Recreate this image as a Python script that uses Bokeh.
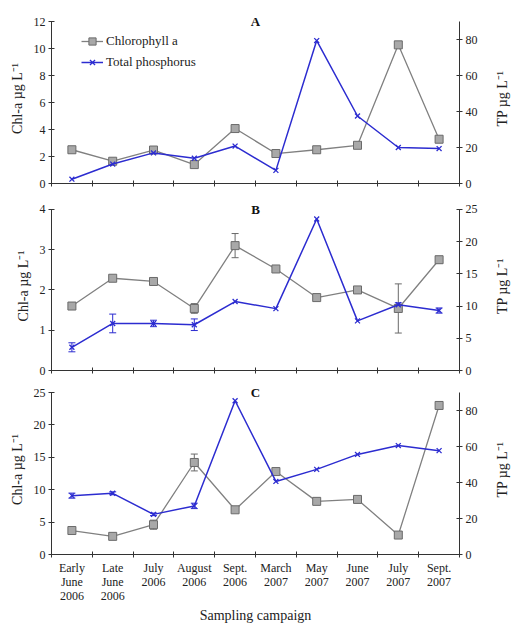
from bokeh.plotting import figure
from bokeh.models import (Range1d, LinearAxis, FixedTicker, ColumnDataSource, Whisker,
                          TeeHead, Label, Legend, LegendItem, Title)
from bokeh.layouts import column, row
from bokeh.embed import file_html
from bokeh.resources import INLINE

categories = ["Early\nJune\n2006", "Late\nJune\n2006", "July\n2006", "August\n2006",
              "Sept.\n2006", "March\n2007", "May\n2007", "June\n2007", "July\n2007", "Sept.\n2007"]

chl_a = [2.5, 1.65, 2.48, 1.4, 4.07, 2.22, 2.5, 2.83, 10.27, 3.28]
chl_a_err = [0, 0, 0, 0, 0, 0, 0, 0, 0, 0]
tp_a = [2.4, 10.8, 17.0, 14.0, 20.8, 7.3, 79.4, 37.5, 20.0, 19.4]
tp_a_err = [0, 0, 0, 0, 0, 0, 0, 0, 0, 0]

chl_b = [1.6, 2.29, 2.21, 1.54, 3.1, 2.52, 1.81, 2.0, 1.54, 2.75]
chl_b_err = [0, 0.04, 0, 0.12, 0.3, 0, 0, 0.07, 0.61, 0.08]
tp_b = [3.6, 7.3, 7.3, 7.1, 10.7, 9.6, 23.5, 7.7, 10.2, 9.3]
tp_b_err = [0.7, 1.45, 0.5, 0.9, 0, 0, 0, 0, 0.3, 0.4]

chl_c = [3.7, 2.8, 4.6, 14.2, 6.9, 12.8, 8.2, 8.5, 3.0, 23.0]
chl_c_err = [0, 0, 0.7, 1.3, 0, 0, 0, 0, 0, 0]
tp_c = [32.7, 34.0, 22.3, 27.0, 85.4, 40.6, 47.3, 55.6, 60.5, 57.7]
tp_c_err = [1.4, 0.8, 0.7, 1.5, 0, 0, 0, 0, 0, 0]

panel_letters = ["A", "B", "C"]
chl_ranges = [(0, 12, 2), (0, 4, 1), (0, 25, 5)]
tp_ranges = [(0, 90, 20, 80), (0, 25, 5, 25), (0, 90, 20, 80)]
chl_label = "Chl-a µg L⁻¹"
tp_label = "TP µg L⁻¹"

FONT = "Liberation Serif"
GRAY_LINE = "#808080"
GRAY_FILL = "#a8a8a8"
GRAY_EDGE = "#6a6a6a"
BLUE = "#2c2cd0"
AXIS = "#333333"
EXT = 8          # px of headroom above each axis top for the panel letter
SIDE_W = 26      # width of the strip that carries the right-hand axis title
MAIN_W = 516 - SIDE_W

x = [i + 0.5 for i in range(len(categories))]


def style_axis(ax):
    ax.axis_line_color = AXIS
    ax.major_tick_line_color = AXIS
    ax.minor_tick_line_color = AXIS
    ax.major_tick_in = 3
    ax.major_tick_out = 3
    ax.major_label_text_font = FONT
    ax.major_label_text_font_size = "12px"
    ax.major_label_text_color = "#222222"
    ax.axis_label_text_font = FONT
    ax.axis_label_text_font_size = "14px"
    ax.axis_label_text_font_style = "normal"
    ax.axis_label_text_color = "#222222"
    ax.major_label_standoff = 3


def whiskers(p, vals, errs, color, range_name=None):
    xs, lo, hi = [], [], []
    for xi, v, e in zip(x, vals, errs):
        if e > 0:
            xs.append(xi); lo.append(v - e); hi.append(v + e)
    if not xs:
        return
    src = ColumnDataSource(dict(x=xs, lower=lo, upper=hi))
    kw = {}
    if range_name:
        kw["y_range_name"] = range_name
    w = Whisker(source=src, base="x", lower="lower", upper="upper",
                line_color=color, line_width=1,
                upper_head=TeeHead(size=7, line_color=color, line_width=1),
                lower_head=TeeHead(size=7, line_color=color, line_width=1), **kw)
    p.add_layout(w)


def side_title(height, center):
    # narrow strip whose left-side Title reads bottom-to-top, centred at `center`
    s = figure(width=SIDE_W, height=height, output_backend="svg", toolbar_location=None,
               x_axis_location=None, y_axis_location=None,
               min_border_left=20, min_border_right=0,
               min_border_top=0, min_border_bottom=max(0, height - 2 * center))
    s.grid.visible = False
    s.outline_line_color = None
    t = Title(text=tp_label, align="center", vertical_align="middle", standoff=0,
              text_font=FONT, text_font_size="14px", text_font_style="normal",
              text_color="#222222")
    s.add_layout(t, "left")
    return s


def make_panel(idx, chl, chl_err, tp, tp_err, frame_h, top, bottom, last=False):
    c0, c1, cs = chl_ranges[idx]
    t0, t1, ts, tmax = tp_ranges[idx]
    k = (frame_h + EXT) / frame_h
    height = top + frame_h + EXT + bottom
    p = figure(width=MAIN_W, height=height, output_backend="svg", toolbar_location=None,
               x_range=Range1d(0, len(categories)),
               y_range=Range1d(c0, c0 + (c1 - c0) * k),
               min_border_left=51, min_border_right=57 - SIDE_W,
               min_border_top=top, min_border_bottom=bottom)
    p.grid.visible = False
    p.outline_line_color = None
    p.background_fill_color = "white"
    p.extra_y_ranges = {"tp": Range1d(t0, t0 + (t1 - t0) * k)}

    # x axis with ticks at category boundaries
    xa = p.xaxis[0]
    style_axis(xa)
    xa.major_tick_in = 0
    xa.major_tick_out = 0
    xa.minor_tick_in = 3
    xa.minor_tick_out = 3
    bounds_ticks = list(range(len(categories) + 1))
    if last:
        xa.ticker = FixedTicker(ticks=x, minor_ticks=bounds_ticks)
        xa.major_label_overrides = {xi: c for xi, c in zip(x, categories)}
        xa.major_label_text_line_height = 1.0
        xa.major_label_standoff = 3
        xa.axis_label = "Sampling campaign"
        xa.axis_label_standoff = 2
    else:
        xa.ticker = FixedTicker(ticks=[], minor_ticks=bounds_ticks)

    ya = p.yaxis[0]
    ya.ticker = FixedTicker(ticks=list(range(c0, c1 + 1, cs)))
    ya.bounds = (c0, c1)
    style_axis(ya)
    ya.axis_label = chl_label
    ya.axis_label_standoff = 6

    ra = LinearAxis(y_range_name="tp", ticker=FixedTicker(ticks=list(range(t0, tmax + 1, ts))),
                    bounds=(t0, t1))
    style_axis(ra)
    p.add_layout(ra, "right")

    whiskers(p, chl, chl_err, GRAY_EDGE)
    whiskers(p, tp, tp_err, BLUE, "tp")

    l1 = p.line(x, chl, line_color=GRAY_LINE, line_width=1.3)
    s1 = p.scatter(x, chl, marker="square", size=8, fill_color=GRAY_FILL,
                   line_color=GRAY_EDGE, line_width=1)
    l2 = p.line(x, tp, line_color=BLUE, line_width=1.5, y_range_name="tp")
    s2 = p.scatter(x, tp, marker="x", size=7, line_color=BLUE, line_width=1.3,
                   y_range_name="tp")

    p.add_layout(Label(x=len(categories) / 2, y=c1, text=panel_letters[idx],
                       text_font=FONT, text_font_style="bold", text_font_size="13px",
                       text_align="center", text_baseline="middle", text_color="#111111"))

    if idx == 0:
        leg = Legend(items=[LegendItem(label="Chlorophyll a", renderers=[l1, s1]),
                            LegendItem(label="Total phosphorus", renderers=[l2, s2])],
                     location=(30, 112))
        leg.border_line_alpha = 0
        leg.background_fill_alpha = 0
        leg.padding = 0
        leg.margin = 0
        leg.glyph_width = 22
        leg.glyph_height = 18
        leg.spacing = 3
        leg.label_standoff = 3
        leg.label_text_font = FONT
        leg.label_text_font_size = "13px"
        leg.label_text_color = "#222222"
        p.add_layout(leg, "center")
    return p, height


pA, hA = make_panel(0, chl_a, chl_a_err, tp_a, tp_a_err, 162, 13, 15)
pB, hB = make_panel(1, chl_b, chl_b_err, tp_b, tp_b_err, 164, 3, 11)
pC, hC = make_panel(2, chl_c, chl_c_err, tp_c, tp_c_err, 162, 0, 72, last=True)

layout = column(row(pA, side_title(hA, 96), spacing=0),
                row(pB, side_title(hB, 86), spacing=0),
                row(pC, side_title(hC, 92), spacing=0), spacing=0)
open("out.html", "w").write(file_html(layout, INLINE))
